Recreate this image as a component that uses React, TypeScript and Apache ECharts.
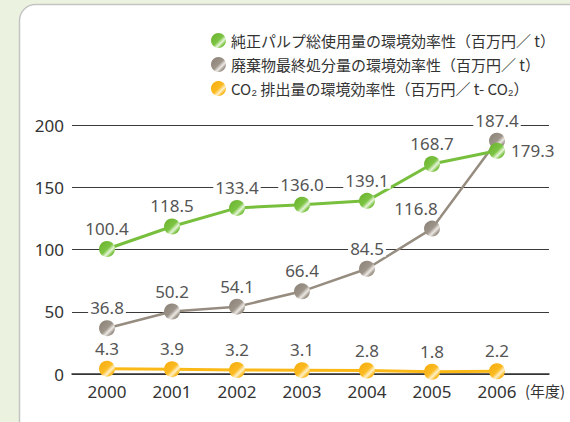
import React, { useEffect, useRef } from "react";
import * as echarts from "echarts";

const years = [2000, 2001, 2002, 2003, 2004, 2005, 2006];
const pulpValues = [100.4, 118.5, 133.4, 136.0, 139.1, 168.7, 179.3];
const wasteValues = [36.8, 50.2, 54.1, 66.4, 84.5, 116.8, 187.4];
const co2Values = [4.3, 3.9, 3.2, 3.1, 2.8, 1.8, 2.2];
const seriesNames = [
  "純正パルプ総使用量の環境効率性（百万円／ t）",
  "廃棄物最終処分量の環境効率性（百万円／ t）",
  "CO₂ 排出量の環境効率性（百万円／ t- CO₂）",
];
const yTicks = [0, 50, 100, 150, 200];

const FONT = "'Noto Sans', 'Noto Sans CJK JP', sans-serif";

function shiny(dark: string, mid: string, light: string) {
  return new echarts.graphic.LinearGradient(0, 0, 1, 1, [
    { offset: 0, color: dark },
    { offset: 0.5, color: mid },
    { offset: 0.66, color: light },
    { offset: 0.8, color: mid },
    { offset: 1, color: dark },
  ]);
}

export default function App() {
  const ref = useRef<HTMLDivElement>(null);
  useEffect(() => {
    if (!ref.current) return;
    const chart = echarts.init(ref.current, null, { renderer: "svg" });
    const label = {
      show: true,
      position: "top" as const,
      distance: 4,
      fontSize: 17,
      color: "#555",
      fontFamily: FONT,
      backgroundColor: "#fff",
      padding: [0, 2, 0, 2],
      formatter: (p: any) => Number(p.value[1]).toFixed(1),
    };
    const mk = (vals: number[], overrides: Record<number, any>) =>
      vals.map((v, i) =>
        overrides[i] ? { value: [years[i], v], label: overrides[i] } : [years[i], v]
      );
    chart.setOption({
      animation: false,
      backgroundColor: "#ebf3e0",
      graphic: [
        {
          type: "rect",
          z: -10,
          shape: { x: 19.5, y: 4.5, width: 570, height: 440, r: 16 },
          style: { fill: "#fff", stroke: "#c4c4c4", lineWidth: 1.5 },
          silent: true,
        },
        {
          type: "text",
          left: 525,
          top: 383,
          style: { text: "(年度)", fontSize: 15, fill: "#333", fontFamily: "'Noto Sans CJK JP', sans-serif" },
        },
      ],
      legend: {
        orient: "vertical",
        left: 206,
        top: 28,
        itemGap: 9,
        itemWidth: 15,
        itemHeight: 15,
        icon: "circle",
        textStyle: { fontSize: 15, color: "#333", fontFamily: "'Noto Sans CJK JP', sans-serif" },
        data: seriesNames,
      },
      grid: { left: 72, right: 21, top: 125, bottom: 48, containLabel: false },
      xAxis: {
        type: "value",
        min: 1999.4615,
        max: 2006.8,
        splitLine: { show: false },
        axisTick: { show: false },
        axisLine: { show: true, lineStyle: { color: "#333", width: 1.5 } },
        axisLabel: {
          customValues: years,
          formatter: (v: number) => String(v),
          fontSize: 17,
          color: "#333",
          margin: 9,
          fontFamily: FONT,
        },
      },
      yAxis: {
        type: "value",
        min: 0,
        max: 200,
        interval: 50,
        axisLine: { show: false },
        axisTick: { show: false },
        axisLabel: {
          customValues: yTicks,
          fontSize: 17,
          color: "#333",
          margin: 8,
          fontFamily: FONT,
        },
        splitLine: { lineStyle: { color: "#3a3a3a", width: 1 } },
      },
      series: [
        {
          name: seriesNames[0],
          type: "line",
          z: 5,
          symbol: "circle",
          symbolSize: 16,
          lineStyle: { color: "#78bf3e", width: 3 },
          itemStyle: { color: shiny("#68b02b", "#7cc443", "#e6f4d8") },
          label,
          data: mk(pulpValues, { 6: { position: "right", distance: 4 } }),
        },
        {
          name: seriesNames[1],
          type: "line",
          z: 3,
          symbol: "circle",
          symbolSize: 16,
          lineStyle: { color: "#968c80", width: 2.5 },
          itemStyle: { color: shiny("#8a8075", "#9d948a", "#ece8e3") },
          label,
          data: mk(wasteValues, { 5: { position: "top", offset: [-16, 0] } }),
        },
        {
          name: seriesNames[2],
          type: "line",
          z: 4,
          symbol: "circle",
          symbolSize: 16,
          lineStyle: { color: "#fbb917", width: 3 },
          itemStyle: { color: shiny("#f6ab0c", "#fbbb22", "#fff0c8") },
          label,
          data: mk(co2Values, {}),
        },
      ],
    });
    return () => chart.dispose();
  }, []);
  return (
    <div
      ref={ref}
      style={{ position: "fixed", left: 0, top: 0, width: 570, height: 422 }}
    />
  );
}
